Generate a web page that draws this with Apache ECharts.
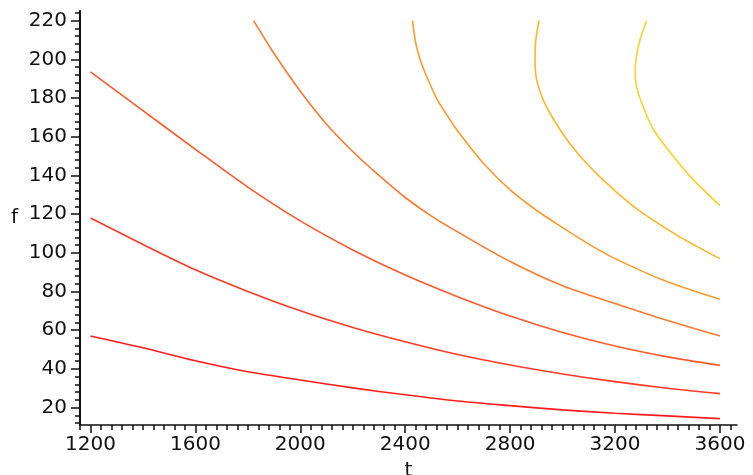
<!DOCTYPE html>
<html>
<head>
<meta charset="utf-8">
<script src="https://cdn.jsdelivr.net/npm/echarts@6/dist/echarts.min.js"></script>
<style>
html, body { margin: 0; padding: 0; background: #fff; }
#chart { width: 753px; height: 475px; }
</style>
</head>
<body>
<div id="chart"></div>
<script>
// contour levels, each as [t, f] pairs
const contour1 = [[1200, 57], [1400, 50.9], [1600, 44.2], [1800, 38.5], [2000, 34.3], [2200, 30.2], [2400, 26.6], [2600, 23.4], [2800, 21.0], [3000, 18.8], [3200, 17.1], [3400, 15.7], [3600, 14.3]];
const contour2 = [[1200, 118], [1400, 104.3], [1600, 91.2], [1800, 80], [2000, 70], [2200, 61.4], [2400, 54], [2600, 47.4], [2800, 42], [3000, 37.4], [3200, 33.4], [3400, 30], [3600, 27.2]];
const contour3 = [[1200, 193.5], [1400, 173.5], [1600, 153.5], [1800, 134], [2000, 116.5], [2200, 101.5], [2400, 88.5], [2600, 77.3], [2800, 67.3], [3000, 58.8], [3200, 51.8], [3400, 46.2], [3600, 41.8]];
const contour4 = [[1822, 220], [1900, 203], [2000, 183.5], [2100, 166.5], [2200, 152.4], [2300, 140], [2400, 128.6], [2500, 119], [2600, 110.8], [2800, 95.5], [3000, 83], [3200, 73.8], [3400, 65], [3600, 57]];
const contour5 = [[2428, 220], [2438, 210], [2452, 202], [2470, 195], [2495, 187], [2521, 179.5], [2560, 171], [2600, 163], [2700, 146], [2800, 132.5], [2900, 122], [3000, 113], [3100, 104.5], [3200, 97], [3400, 85], [3600, 76]];
const contour6 = [[2910, 220], [2898, 210], [2895, 200], [2898, 192], [2910, 185], [2933, 177], [2970, 168], [3030, 156], [3100, 145], [3200, 132], [3300, 121], [3450, 108], [3600, 97]];
const contour7 = [[3320, 220], [3295, 210], [3280, 200], [3277, 193], [3282, 186], [3300, 178], [3345, 164], [3410, 152], [3490, 139], [3600, 124.5]];

const tLabels = [1200, 1600, 2000, 2400, 2800, 3200, 3600];
const fLabels = [20, 40, 60, 80, 100, 120, 140, 160, 180, 200, 220];
const tMinor = [1160, 1200, 1240, 1280, 1320, 1360, 1400, 1440, 1480, 1520, 1560, 1600, 1640, 1680, 1720, 1760, 1800, 1840, 1880, 1920, 1960, 2000, 2040, 2080, 2120, 2160, 2200, 2240, 2280, 2320, 2360, 2400, 2440, 2480, 2520, 2560, 2600, 2640, 2680, 2720, 2760, 2800, 2840, 2880, 2920, 2960, 3000, 3040, 3080, 3120, 3160, 3200, 3240, 3280, 3320, 3360, 3400, 3440, 3480, 3520, 3560, 3600, 3640];
const fMinor = [12, 16, 20, 24, 28, 32, 36, 40, 44, 48, 52, 56, 60, 64, 68, 72, 76, 80, 84, 88, 92, 96, 100, 104, 108, 112, 116, 120, 124, 128, 132, 136, 140, 144, 148, 152, 156, 160, 164, 168, 172, 176, 180, 184, 188, 192, 196, 200, 204, 208, 212, 216, 220, 224];

const contours = [contour1, contour2, contour3, contour4, contour5, contour6, contour7];
const colors = ['#ff1c1c', '#ff3a26', '#ff5a2e', '#ff7a30', '#ff9a2c', '#ffb62a', '#ffd02c'];

const chart = echarts.init(document.getElementById('chart'));
const labelFont = {
    fontFamily: 'DejaVu Sans',
    fontSize: 20,
    color: '#111'
};
const plain = function(v) { return String(v); };

const option = {
    animation: false,
    backgroundColor: '#fff',
    grid: {
        left: 80,
        right: 16,
        top: 11,
        bottom: 50,
        outerBoundsMode: 'none',
        containLabel: false
    },
    xAxis: [{
        type: 'value',
        min: 1160,
        max: 3665,
        position: 'bottom',
        name: 't',
        nameLocation: 'middle',
        nameGap: 36,
        nameTextStyle: labelFont,
        axisLine: { show: true, lineStyle: { color: '#111', width: 1.5 } },
        axisTick: { show: true, length: 8, customValues: tLabels, lineStyle: { color: '#111', width: 1.5 } },
        axisLabel: Object.assign({ customValues: tLabels, margin: 10, formatter: plain }, labelFont),
        splitLine: { show: false }
    }, {
        type: 'value',
        min: 1160,
        max: 3665,
        position: 'bottom',
        axisLine: { show: false },
        axisTick: { show: true, length: 5, customValues: tMinor, lineStyle: { color: '#111', width: 1.5 } },
        axisLabel: { show: false },
        splitLine: { show: false }
    }],
    yAxis: [{
        type: 'value',
        min: 11,
        max: 225,
        position: 'left',
        name: 'f',
        nameLocation: 'middle',
        nameRotate: 0,
        nameGap: 62,
        nameTextStyle: labelFont,
        axisLine: { show: true, lineStyle: { color: '#111', width: 2 } },
        axisTick: { show: true, length: 9, customValues: fLabels, lineStyle: { color: '#111', width: 1.5 } },
        axisLabel: Object.assign({ customValues: fLabels, margin: 13, formatter: plain }, labelFont),
        splitLine: { show: false }
    }, {
        type: 'value',
        min: 11,
        max: 225,
        position: 'left',
        axisLine: { show: false },
        axisTick: { show: true, length: 5, customValues: fMinor, lineStyle: { color: '#111', width: 1.5 } },
        axisLabel: { show: false },
        splitLine: { show: false }
    }],
    series: contours.map(function(data, i) {
        return {
            type: 'line',
            xAxisIndex: 0,
            yAxisIndex: 0,
            data: data,
            smooth: 0.3,
            showSymbol: false,
            silent: true,
            lineStyle: { color: colors[i], width: 1.6 }
        };
    })
};
chart.setOption(option);
</script>
</body>
</html>
